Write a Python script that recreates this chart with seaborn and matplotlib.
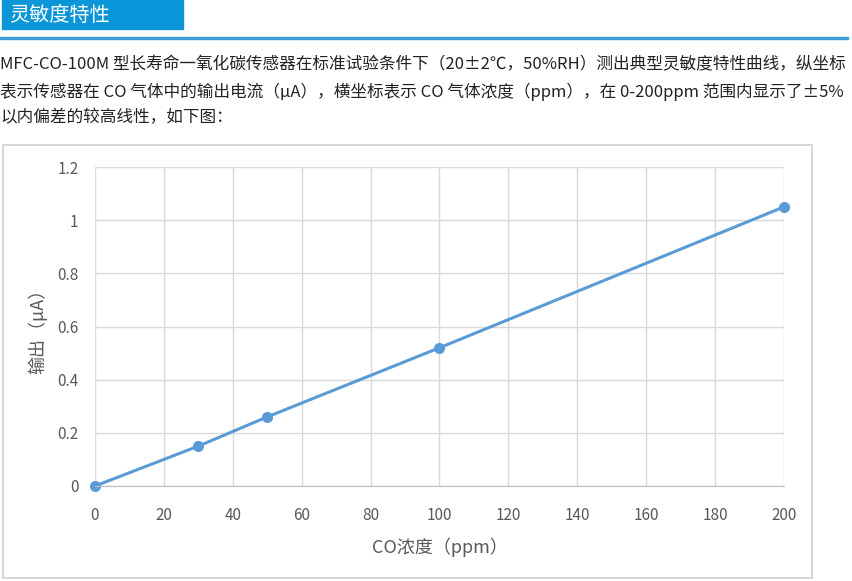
import matplotlib.pyplot as plt
import matplotlib.patches as patches
import seaborn as sns
import pandas as pd

# data
co_ppm = [0, 30, 50, 100, 200]
output_ua = [0, 0.15, 0.26, 0.52, 1.05]
x_ticks = [0, 20, 40, 60, 80, 100, 120, 140, 160, 180, 200]
y_ticks = [0, 0.2, 0.4, 0.6, 0.8, 1.0, 1.2]
y_tick_labels = ['0', '0.2', '0.4', '0.6', '0.8', '1', '1.2']

title = '灵敏度特性'
para_lines = [
    'MFC-CO-100M 型长寿命一氧化碳传感器在标准试验条件下（20±2℃，50%RH）测出典型灵敏度特性曲线，纵坐标',
    '表示传感器在 CO 气体中的输出电流（μA），横坐标表示 CO 气体浓度（ppm），在 0-200ppm 范围内显示了±5%',
    '以内偏差的较高线性，如下图：',
]

sns.set_style('white')
plt.rcParams['font.family'] = ['Noto Sans CJK SC', 'DejaVu Sans']

W, H = 853, 581
fig = plt.figure(figsize=(W / 100, H / 100), dpi=100)
fig.patch.set_facecolor('white')

def fx(px):
    return px / W

def fy(py):
    return 1 - py / H

# header bar and rule
fig.patches.append(patches.Rectangle((fx(2), fy(29)), fx(181), 29 / H,
                                     transform=fig.transFigure, color='#0a96d8', zorder=0))
fig.text(fx(9), fy(15), title, color='white', fontsize=14.5, va='center', ha='left')
fig.patches.append(patches.Rectangle((fx(0), fy(39)), fx(848), 2.5 / H,
                                     transform=fig.transFigure, color='#3a9bd5', zorder=0))

# paragraph
for i, line in enumerate(para_lines):
    fig.text(fx(0), fy(65 + i * 26.5), line, fontsize=12, va='center', ha='left', color='#222222')

# chart frame
fig.patches.append(patches.Rectangle((fx(3), fy(578)), fx(809), (578 - 145) / H,
                                     transform=fig.transFigure, fill=False,
                                     edgecolor='#d0d0d0', linewidth=1.2, zorder=0))

ax = fig.add_axes([fx(95), fy(486), fx(784 - 95), (486 - 167) / H])
df = pd.DataFrame({'CO': co_ppm, 'out': output_ua})
sns.lineplot(data=df, x='CO', y='out', ax=ax, color='#5b9bd5', linewidth=2.2,
             marker='o', markersize=8, markeredgewidth=0, clip_on=False)

ax.set_xlim(0, 200)
ax.set_ylim(0, 1.2)
ax.set_xticks(x_ticks)
ax.set_yticks(y_ticks)
ax.set_yticklabels(y_tick_labels)
ax.grid(True, color='#d9d9d9', linewidth=1)
for s in ['top', 'right', 'left']:
    ax.spines[s].set_visible(False)
ax.spines['bottom'].set_color('#bfbfbf')
ax.tick_params(axis='both', length=0, labelsize=11, labelcolor='#595959')
ax.tick_params(axis='x', pad=15)
ax.tick_params(axis='y', pad=12)
ax.set_xlabel('CO浓度（ppm）', fontsize=13, color='#595959', labelpad=10)
ax.set_ylabel('输出（μA）', fontsize=13, color='#595959', labelpad=7)

fig.savefig('out.png', dpi=100)
